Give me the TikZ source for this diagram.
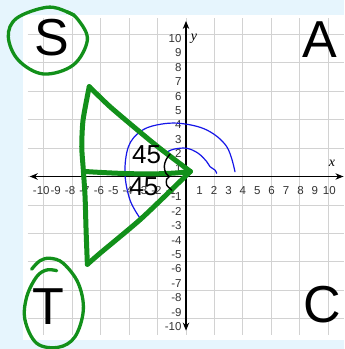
\documentclass[tikz,border=0pt]{standalone}
\usepackage{fontspec}
\setmainfont{Liberation Sans}
\newfontfamily\axisfont{Liberation Serif}
\usetikzlibrary{arrows.meta}
\definecolor{panelblue}{HTML}{E6F5FD}
\definecolor{gridgray}{HTML}{D2D2D2}
\definecolor{markgreen}{HTML}{12901A}
\definecolor{penblue}{HTML}{1616E8}

\begin{document}
\begin{tikzpicture}[x=14.4pt,y=14.4pt,>={Stealth[length=8pt,width=6.5pt]},
    xlab/.style={font=\fontsize{11.5}{12}\selectfont,text=black!80,inner sep=0pt},
    ylab/.style={font=\fontsize{11.5}{12}\selectfont,text=black!80,inner sep=0pt,anchor=east},
    quad/.style={font=\fontsize{52}{52}\selectfont,inner sep=0pt},
    hand/.style={font=\fontsize{26}{26}\selectfont,inner sep=0pt},
    greenpen/.style={markgreen,line width=5pt,line cap=round,line join=round},
    greenring/.style={markgreen,line width=3.3pt,line cap=round,line join=round},
    bluepen/.style={penblue,line width=1.2pt,line cap=round}]
  \useasboundingbox (-12.917,-11.979) rectangle (10.972,12.257);
  \fill[panelblue] (-12.917,-11.979) rectangle (10.972,12.257);
  \fill[white] (-11.32,-11.35) rectangle (10.972,11.215);
  \draw[gridgray,line width=0.9pt] (-11,-11) grid (10.97,11);

  % axes
  \draw[<->,line width=1.1pt] (-10.85,0) -- (10.93,0);
  \draw[<->,line width=1.1pt] (0,-10.7) -- (0,10.8);
  \node (xname) at (10.14,0.94) {\axisfont\itshape\fontsize{14}{14}\selectfont x};
  \node (yname) at (0.56,9.55) {\axisfont\itshape\fontsize{14}{14}\selectfont y};
  \foreach \k in {-10,...,-1,1,2,...,10} {
    \node[xlab] (xt\k) at (\k-0.05,-0.95) {\k};
    \node[ylab] (yt\k) at (-0.3,\k-0.42) {\k};
  }

  % quadrant letters
  \node[quad] (S) at (-9.31,9.62) {S};
  \node[quad] (A) at (9.31,9.48) {A};
  \node[quad] (T) at (-9.58,-9.06) {T};
  \node[quad] (C) at (9.44,-8.92) {C};
  \draw[greenring] plot[smooth cycle,tension=0.6] coordinates {(-9.67,11.75) (-11.76,10.99) (-12.34,9.71) (-11.65,8.09) (-9.91,7.12) (-7.83,7.74) (-6.85,9.48) (-7.48,10.87) (-8.28,11.44)};
  \draw[greenring] (-8.28,11.44) -- (-7.75,11.2);
  \draw[greenring] plot[smooth,tension=0.6] coordinates {(-10.72,-6.44) (-10.14,-5.85) (-9.44,-5.68) (-8.52,-6.03) (-7.48,-7.42) (-7.13,-9.27) (-7.71,-11.13) (-8.87,-11.86) (-10.37,-11.58) (-11.18,-9.97) (-11.06,-8.35) (-10.37,-6.96) (-9.67,-6.49) (-8.98,-6.54)};

  % reference arcs
  \draw[bluepen] plot[smooth,tension=0.6] coordinates {(-3.19,-2.9) (-3.89,-1.63) (-4.24,0.22) (-4.0,2.07) (-3.19,3.11) (-2.03,3.58) (-0.42,3.69) (1.44,3.23) (2.83,2.07) (3.4,0.33)};
  \draw[bluepen] plot[smooth,tension=0.6] coordinates {(-1.46,1.61) (-0.88,1.89) (0.05,1.96) (0.85,1.61) (1.44,1.03) (1.67,0.68) (2.01,0.45) (2.13,0.22)};

  % triangle
  \coordinate (tip) at (0.3,0.35);
  \coordinate (top) at (-6.72,6.24);
  \coordinate (bot) at (-6.85,-6.1);
  \draw[greenpen] plot[smooth,tension=0.4] coordinates {(top) (-5.28,4.85) (-3.19,3.08) (-1.81,1.95) (tip)};
  \draw[greenpen] plot[smooth,tension=0.4] coordinates {(tip) (-3.08,-2.9) (-5.97,-5.33) (bot)};
  \draw[greenpen] plot[smooth,tension=0.4] coordinates {(bot) (-6.94,-3.72) (-7.01,-1.4) (-7.13,0.45) (-7.24,2.07) (-7.15,3.92) (top)};
  \draw[greenpen] (-7.05,0.35) .. controls (-4,0.15) and (-1.5,0.1) .. (tip);

  % angle marks
  \draw[black,line width=1.4pt,line cap=round] plot[smooth,tension=0.6] coordinates {(-1.11,1.56) (-1.39,1.15) (-1.51,0.68) (-1.39,0.22) (-1.16,-0.01) (-1.34,-0.19) (-1.34,-0.59) (-0.99,-0.94)};
  \node[hand] (upperangle) at (-2.73,1.49) {45};
  \node[hand] (lowerangle) at (-2.92,-0.73) {45};
\end{tikzpicture}
\end{document}
